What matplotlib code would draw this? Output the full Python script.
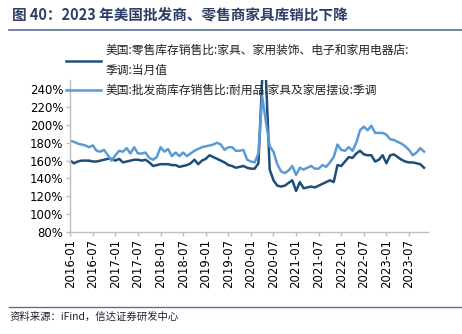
import numpy as np
import matplotlib.pyplot as plt
from matplotlib.lines import Line2D

plt.rcParams['font.family'] = ['DejaVu Sans', 'Noto Sans CJK SC']

# 月份：2016-01 ~ 2023-11
months = [f'{2016 + i // 12}-{i % 12 + 1:02d}' for i in range(95)]

# 零售库存销售比（家具、家用装饰、电子和家用电器店），%
retail = [160, 157, 159, 160, 160, 160, 159, 159, 160, 161, 162, 162,
          160, 162, 158, 159, 160, 161, 161, 160, 161, 158, 154, 155,
          156, 156, 156, 155, 155, 153, 154, 155, 157, 161, 156, 160,
          162, 166, 164, 162, 160, 158, 155, 154, 152, 153, 154, 152,
          151, 151, 157, 252, 252, 150, 138, 132, 131, 132, 135, 138,
          126, 136, 129, 130, 131, 130, 132, 134, 136, 138, 136, 155,
          154, 159, 164, 163, 168, 171, 167, 166, 166, 159, 161, 166,
          157, 166, 167, 164, 161, 159, 158, 158, 157, 156, 152]

# 批发商库存销售比（耐用品：家具及家居摆设），%
wholesale = [182, 181, 179, 178, 177, 175, 177, 171, 170, 172, 166, 160,
             166, 171, 170, 174, 168, 175, 168, 168, 169, 163, 161, 164,
             175, 170, 173, 165, 169, 165, 169, 165, 168, 171, 173, 175,
             176, 177, 178, 180, 178, 172, 175, 175, 171, 171, 172, 161,
             159, 158, 168, 232, 203, 176, 170, 156, 148, 146, 149, 154,
             144, 152, 150, 152, 154, 151, 151, 155, 153, 158, 164, 178,
             172, 171, 175, 171, 180, 194, 198, 194, 199, 191, 191, 191,
             189, 184, 183, 181, 179, 176, 172, 166, 169, 174, 170]

dark = '#1F4E79'
light = '#5B9BD5'
cjk = ['Noto Sans CJK SC', 'DejaVu Sans']

fig = plt.figure(figsize=(4.62, 3.34), dpi=100)
ax = fig.add_axes([0.152, 0.305, 0.774, 0.455])

x = np.arange(len(months))
ax.plot(x, retail, color=dark, lw=1.8)
ax.plot(x, wholesale, color=light, lw=1.8)

ax.set_xlim(0, 95)
ax.set_ylim(80, 250)
ax.set_yticks(range(80, 241, 20))
ax.set_yticklabels([f'{v}%' for v in range(80, 241, 20)], fontsize=8.5)
ax.set_xticks(x[::6])
ax.set_xticklabels(months[::6], rotation=90, fontsize=8.5)

for s in ['top', 'right']:
    ax.spines[s].set_visible(False)
for s in ['left', 'bottom']:
    ax.spines[s].set_color('#BFBFBF')
    ax.spines[s].set_linewidth(1)
ax.tick_params(axis='both', color='#BFBFBF', length=3, width=1, pad=2)

handles = [Line2D([], [], color=dark, lw=1.8), Line2D([], [], color=light, lw=1.8)]
labels = ['美国:零售库存销售比:家具、家用装饰、电子和家用电器店:\n季调:当月值',
          '美国:批发商库存销售比:耐用品:家具及家居摆设:季调']
leg = ax.legend(handles, labels, loc='upper left', bbox_to_anchor=(0.142, 0.868),
                bbox_transform=fig.transFigure, frameon=False, borderpad=0,
                borderaxespad=0, handlelength=3.0, handletextpad=0.4,
                labelspacing=0.6, prop={'family': cjk, 'size': 8.5})
for t in leg.get_texts():
    t.set_color('#222222')
    t.set_linespacing(1.65)

# 标题与来源
fig.text(0.025, 0.955, '图 40：2023 年美国批发商、零售商家具库销比下降', family=cjk,
         fontsize=10.5, fontweight='bold', color='#2E3F66', va='center')
fig.add_artist(Line2D([0.02, 1.0], [0.91, 0.91], color='#5A6E96', lw=1.2))
fig.add_artist(Line2D([0.02, 1.0], [0.082, 0.082], color='#5A6E96', lw=1.0))
fig.text(0.02, 0.052, '资料来源：iFind，信达证券研发中心', family=cjk,
         fontsize=7.5, style='italic', color='#222222', va='center')

fig.savefig('out.png', dpi=100)
